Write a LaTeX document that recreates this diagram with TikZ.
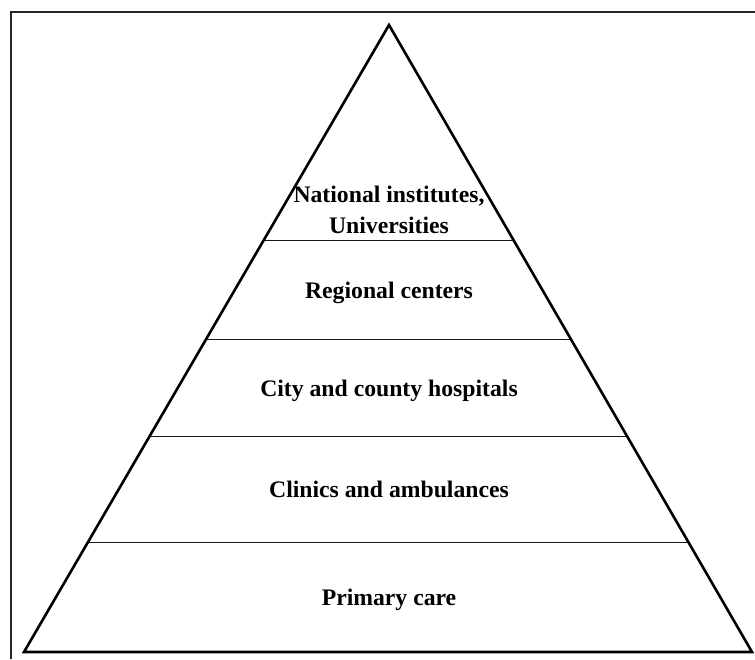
\documentclass[tikz,border=0pt]{standalone}
\usepackage{fontspec}
\setmainfont{Liberation Serif}
\usetikzlibrary{calc}
\tikzset{
  level/.style={font=\bfseries\fontsize{23.7}{31}\selectfont, align=center, inner sep=0pt, anchor=base},
  tier/.style={line width=1.1pt, black!90}
}
\begin{document}
\begin{tikzpicture}[x=1pt,y=-1pt]
\useasboundingbox (0,0) rectangle (755,659);
\draw[line width=1.6pt, black!85] (11,659) -- (11,12) -- (755,12);
\coordinate (top) at (389,25);
\coordinate (bl) at (24,652);
\coordinate (br) at (752,652);
\foreach \t [count=\i] in {0.343,0.502,0.657,0.825} {
  \coordinate (l\i) at ($(top)!\t!(bl)$);
  \coordinate (r\i) at ($(top)!\t!(br)$);
  \draw[tier] (l\i) -- (r\i);
}
\draw[line width=2.6pt, line join=miter] (top) -- (bl) -- (br) -- cycle;
\node[level] (nat) at (389,233) {National institutes,\\Universities};
\node[level] (reg) at (389,298) {Regional centers};
\node[level] (city) at (389,396) {City and county hospitals};
\node[level] (clin) at (389,497) {Clinics and ambulances};
\node[level] (prim) at (389,605) {Primary care};
\end{tikzpicture}
\end{document}
